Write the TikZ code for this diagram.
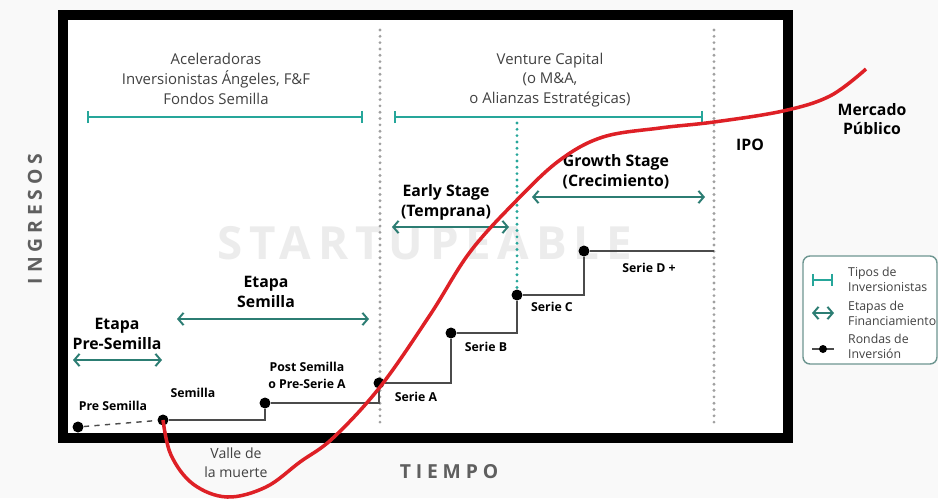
\documentclass[tikz,border=0pt]{standalone}
\usepackage{fontspec}
\setmainfont{Open Sans}
\newfontfamily\axisfont[LetterSpace=25]{Open Sans}
\newfontfamily\markfont[LetterSpace=15]{Open Sans}
\usetikzlibrary{arrows.meta, positioning}
\definecolor{investTeal}{RGB}{38, 166, 154}
\definecolor{stageTeal}{RGB}{44, 125, 115}
\definecolor{curveRed}{RGB}{222, 32, 38}
\definecolor{stepGray}{RGB}{75, 75, 75}
\definecolor{dotGray}{RGB}{160, 160, 160}
\definecolor{textGray}{RGB}{65, 65, 65}
\definecolor{axisGray}{RGB}{95, 95, 95}
\definecolor{markGray}{RGB}{236, 236, 236}
\definecolor{legendEdge}{RGB}{110, 150, 145}
\definecolor{bgGray}{RGB}{249, 249, 249}

\begin{document}
\begin{tikzpicture}[
    x=0.02cm, y=-0.02cm,
    % Investment round (dot)
    ronda/.style={
        circle,
        fill=black,
        inner sep=0pt,
        minimum size=0.22cm
    },
    % Stepped line between rounds
    paso/.style={
        draw=stepGray,
        line width=0.8pt
    },
    % Investor type bracket
    tipo/.style={
        draw=investTeal,
        line width=1.2pt,
        {Bar[width=7pt]}-{Bar[width=7pt]}
    },
    % Funding stage arrow
    etapa/.style={
        draw=stageTeal,
        line width=1.1pt,
        {Straight Barb[length=3pt, width=7pt]}-{Straight Barb[length=3pt, width=7pt]}
    },
    % Dotted separator
    separador/.style={
        draw=#1,
        line width=1.8pt,
        line cap=round,
        dash pattern=on 0pt off 3.6pt
    },
    % Text styles
    inversor/.style={
        font=\fontsize{8.5}{11.3}\selectfont,
        text=textGray,
        align=center
    },
    titulo/.style={
        font=\fontsize{9}{11.3}\selectfont\bfseries,
        align=center
    },
    rondalabel/.style={
        font=\fontsize{7}{9.6}\selectfont\bfseries,
        align=center
    },
    eje/.style={
        font=\fontsize{11}{13}\axisfont\bfseries,
        text=axisGray
    },
    leyenda/.style={
        font=\fontsize{7}{8.6}\selectfont,
        text=textGray,
        align=left
    }
]

\useasboundingbox (0,0) rectangle (938,498);
\fill[bgGray] (0,0) rectangle (938,498);

% ============================================
% FRAME AND WATERMARK
% ============================================
\draw[line width=5.6pt, fill=white] (63,15) rectangle (788,438);

\node[font=\fontsize{26}{28}\markfont\bfseries, text=markGray,
      inner sep=0pt, text depth=0pt] (marca) at (425,243) {STARTUPEABLE};

% Axis labels
\node[eje, rotate=90] (ingresos) at (35,219) {INGRESOS};
\node[eje] (tiempo) at (449,472) {TIEMPO};

% ============================================
% SEPARATORS
% ============================================
\coordinate (sepA top) at (380,30);
\coordinate (sepA bot) at (380,423);
\coordinate (sepB top) at (714,30);
\coordinate (sepB bot) at (714,423);
\coordinate (sepC top) at (517,123);

\draw[separador=dotGray] (sepA top) -- (sepA bot);
\draw[separador=dotGray] (sepB top) -- (sepB bot);

% ============================================
% INVESTOR TYPES
% ============================================
\node[inversor] (aceleradoras) at (216,79) {
    Aceleradoras\\
    Inversionistas Ángeles, F\&F\\
    Fondos Semilla
};
\node[inversor] (venture) at (550,80) {
    Venture Capital\\
    (o M\&A,\\
    o Alianzas Estratégicas)
};

\coordinate (tipo1 l) at (87,117);
\coordinate (tipo1 r) at (363,117);
\coordinate (tipo2 l) at (394,117);
\coordinate (tipo2 r) at (703,117);
\draw[tipo] (tipo1 l) -- (tipo1 r);
\draw[tipo] (tipo2 l) -- (tipo2 r);

% ============================================
% FUNDING STAGES
% ============================================
\node[titulo] (presemilla etapa) at (117,334) {Etapa\\Pre-Semilla};
\node[titulo] (semilla etapa) at (266,292) {Etapa\\Semilla};
\node[titulo] (early) at (446,202) {Early Stage\\(Temprana)};
\node[titulo] (growth) at (616,172) {Growth Stage\\(Crecimiento)};
\node[titulo] (ipo) at (750,145) {IPO};
\node[titulo] (mercado) at (872,119) {Mercado\\Público};

\coordinate (e1 l) at (73,360);
\coordinate (e1 r) at (162,360);
\coordinate (e2 l) at (177,319);
\coordinate (e2 r) at (369,319);
\coordinate (e3 l) at (392,227);
\coordinate (e3 r) at (509,227);
\coordinate (e4 l) at (532,197);
\coordinate (e4 r) at (705,197);
\draw[etapa] (e1 l) -- (e1 r);
\draw[etapa] (e2 l) -- (e2 r);
\draw[etapa] (e3 l) -- (e3 r);
\draw[etapa] (e4 l) -- (e4 r);

% ============================================
% INVESTMENT ROUNDS
% ============================================
\node[ronda] (presemilla) at (78,427) {};
\node[ronda] (semilla) at (163,420) {};
\node[ronda] (postsemilla) at (265,403) {};
\node[ronda] (seriea) at (379,383) {};
\node[ronda] (serieb) at (451,333) {};
\node[ronda] (seriec) at (517,295) {};
\node[ronda] (seried) at (584,251) {};
\coordinate (seried end) at (714,251);

% Teal divider between early and growth
\draw[separador=investTeal] (sepC top) -- (seriec);

\draw[paso, dashed] (presemilla) -- (semilla);
\draw[paso] (semilla) -| (postsemilla);
\draw[paso] (postsemilla) -| (seriea);
\draw[paso] (seriea) -| (serieb);
\draw[paso] (serieb) -| (seriec);
\draw[paso] (seriec) -| (seried);
\draw[paso] (seried) -- (seried end);

\node[rondalabel] at (113,406) {Pre Semilla};
\node[rondalabel] at (193,393) {Semilla};
\node[rondalabel] at (307,375) {Post Semilla\\o Pre-Serie A};
\node[rondalabel] at (416,397) {Serie A};
\node[rondalabel] at (486,347) {Serie B};
\node[rondalabel] at (552,307) {Serie C};
\node[rondalabel] at (649,268) {Serie D +};

% ============================================
% REVENUE CURVE
% ============================================
\draw[curveRed, line width=2pt] plot[smooth, tension=0.6] coordinates {
    (semilla.center) (171,455) (193,484) (227,497) (266,487) (300,462)
    (333,438) (380,387) (430,315) (470,252) (517,200) (560,160)
    (603,137) (660,128) (714,122) (783,111) (830,96) (866,69)
};

\node[inversor, font=\fontsize{8}{10.6}\selectfont] (valle) at (236,463) {Valle de\\la muerte};

% ============================================
% LEGEND
% ============================================
\draw[legendEdge, line width=0.8pt, rounded corners=4pt, fill=white] (803,256) rectangle (937,364);

\coordinate (ley1 l) at (812,280);
\coordinate (ley1 r) at (833,280);
\coordinate (ley2 l) at (812,313);
\coordinate (ley2 r) at (834,313);
\coordinate (ley3 l) at (812,349);
\coordinate (ley3 r) at (834,349);
\draw[tipo] (ley1 l) -- (ley1 r);
\draw[etapa] (ley2 l) -- (ley2 r);
\draw[paso, line width=1pt] (ley3 l) -- (ley3 r);
\node[ronda, minimum size=0.16cm] (ley3 dot) at (823,349) {};

\node[leyenda, anchor=west] at (842,279) {Tipos de\\Inversionistas};
\node[leyenda, anchor=west] at (842,313) {Etapas de\\Financiamiento};
\node[leyenda, anchor=west] at (842,346) {Rondas de\\Inversión};

\end{tikzpicture}
\end{document}
